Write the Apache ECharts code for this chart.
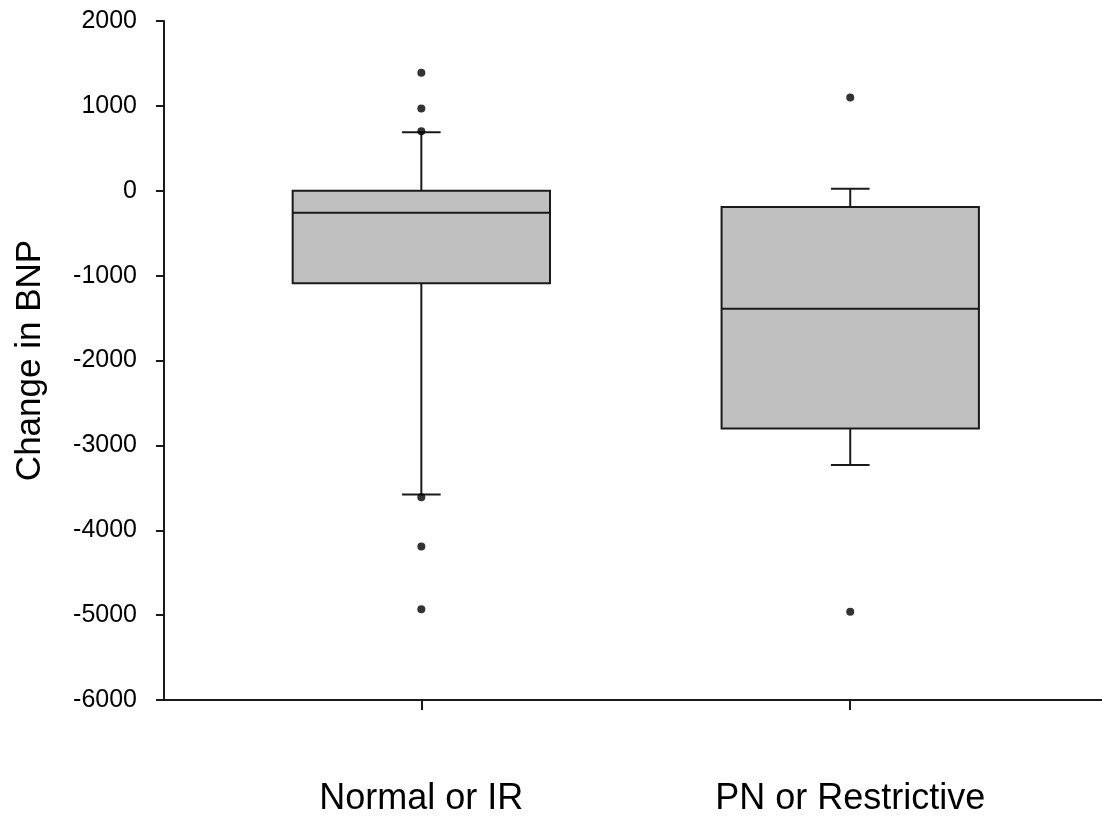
<!DOCTYPE html>
<html>
<head>
<meta charset="utf-8">
<script src="https://cdn.jsdelivr.net/npm/echarts@6/dist/echarts.min.js"></script>
<style>
  html, body { margin: 0; padding: 0; background: #fff; }
  #main { width: 1102px; height: 817px; }
</style>
</head>
<body>
<div id="main"></div>
<script>
// groups and their positions on the x axis
const categories = ["Normal or IR", "PN or Restrictive"];
const positions = [1, 2];

// box statistics
const whiskerLow = [-3580, -3230];
const q1 = [-1090, -2800];
const median = [-260, -1390];
const q3 = [0, -190];
const whiskerHigh = [690, 25];

// points beyond the whiskers
const outliers = [
  [1390, 970, 700, -3610, -4190, -4930],
  [1100, -4960]
];

const yTicks = [-6000, -5000, -4000, -3000, -2000, -1000, 0, 1000, 2000];

let myChart = echarts.init(document.getElementById("main"));

let boxData = positions.map((p, i) => [p, whiskerLow[i], q1[i], median[i], q3[i], whiskerHigh[i]]);
let outlierData = [];
outliers.forEach((list, i) => {
  list.forEach(v => outlierData.push([positions[i], v]));
});

const lineColor = "#1a1a1a";

function renderBox(params, api) {
  let x = api.value(0);
  let low = api.coord([x, api.value(1)]);
  let lo = api.coord([x, api.value(2)]);
  let med = api.coord([x, api.value(3)]);
  let hi = api.coord([x, api.value(4)]);
  let high = api.coord([x, api.value(5)]);
  let half = api.size([0.6, 0])[0] / 2;
  let capHalf = api.size([0.09, 0])[0] / 2;
  let cx = lo[0];
  let lineStyle = { stroke: lineColor, lineWidth: 2 };
  return {
    type: "group",
    children: [
      { type: "line", shape: { x1: cx, y1: hi[1], x2: cx, y2: high[1] }, style: lineStyle },
      { type: "line", shape: { x1: cx - capHalf, y1: high[1], x2: cx + capHalf, y2: high[1] }, style: lineStyle },
      { type: "line", shape: { x1: cx, y1: lo[1], x2: cx, y2: low[1] }, style: lineStyle },
      { type: "line", shape: { x1: cx - capHalf, y1: low[1], x2: cx + capHalf, y2: low[1] }, style: lineStyle },
      {
        type: "rect",
        shape: { x: cx - half, y: hi[1], width: half * 2, height: lo[1] - hi[1] },
        style: { fill: "#c0c0c0", stroke: lineColor, lineWidth: 2 }
      },
      { type: "line", shape: { x1: cx - half, y1: med[1], x2: cx + half, y2: med[1] }, style: lineStyle }
    ]
  };
}

let option = {
  animation: false,
  grid: {
    left: 164,
    right: 0,
    top: 21,
    bottom: 117,
    containLabel: false,
    outerBoundsMode: "none"
  },
  xAxis: {
    type: "value",
    min: 0.4,
    max: 2.587,
    splitLine: { show: false },
    axisLine: { show: true, onZero: false, lineStyle: { color: lineColor, width: 2 } },
    axisTick: {
      show: true,
      customValues: positions,
      length: 10,
      lineStyle: { color: lineColor, width: 2 }
    },
    axisLabel: {
      customValues: positions,
      formatter: v => categories[positions.indexOf(v)] || "",
      fontFamily: "Liberation Sans",
      fontSize: 36,
      color: "#000",
      margin: 81
    }
  },
  yAxis: {
    type: "value",
    min: yTicks[0],
    max: yTicks[yTicks.length - 1],
    interval: 1000,
    name: "Change in BNP",
    nameLocation: "middle",
    nameGap: 116,
    nameTextStyle: { fontFamily: "Liberation Sans", fontSize: 35, color: "#000" },
    splitLine: { show: false },
    axisLine: { show: true, onZero: false, lineStyle: { color: lineColor, width: 2 } },
    axisTick: { show: true, length: 8, lineStyle: { color: lineColor, width: 2 } },
    axisLabel: {
      formatter: v => String(v),
      fontFamily: "Liberation Sans",
      fontSize: 25,
      color: "#000",
      margin: 27
    }
  },
  series: [
    {
      type: "custom",
      renderItem: renderBox,
      encode: { x: 0, y: [1, 2, 3, 4, 5] },
      data: boxData,
      z: 2
    },
    {
      type: "scatter",
      symbol: "circle",
      symbolSize: 8,
      itemStyle: { color: "#000" },
      data: outlierData,
      z: 3
    }
  ]
};

myChart.setOption(option);
</script>
</body>
</html>
